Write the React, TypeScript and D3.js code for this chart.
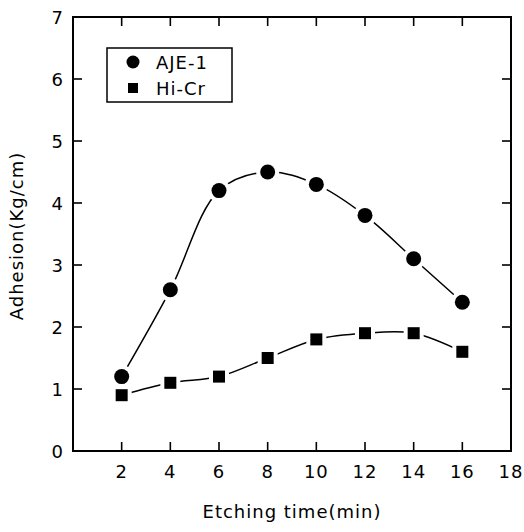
import React, { useEffect, useRef } from 'react';
import * as d3 from 'd3';

const etchTimes = [2, 4, 6, 8, 10, 12, 14, 16];
const ajeValues = [1.2, 2.6, 4.2, 4.5, 4.3, 3.8, 3.1, 2.4];
const hiCrValues = [0.9, 1.1, 1.2, 1.5, 1.8, 1.9, 1.9, 1.6];
const xTickLabels = [2, 4, 6, 8, 10, 12, 14, 16, 18];
const yTickLabels = [0, 1, 2, 3, 4, 5, 6, 7];
const seriesNames = ['AJE-1', 'Hi-Cr'];

const W = 524;
const H = 532;

const App = () => {
  const svgRef = useRef<SVGSVGElement>(null);

  useEffect(() => {
    const svg = d3.select(svgRef.current);
    svg.selectAll('*').remove();
    const font = '"DejaVu Sans", sans-serif';

    // plot frame
    const x = d3.scaleLinear().domain([0, 18]).range([73, 511]);
    const y = d3.scaleLinear().domain([0, 7]).range([451, 17]);

    svg.append('rect')
      .attr('x', x(0)).attr('y', y(7))
      .attr('width', x(18) - x(0)).attr('height', y(0) - y(7))
      .attr('fill', 'none').attr('stroke', '#000').attr('stroke-width', 2);

    const tickLen = 9;
    const g = svg.append('g').attr('stroke', '#000').attr('stroke-width', 1.6);
    // bottom and top ticks (inward)
    etchTimes.forEach((t) => {
      g.append('line').attr('x1', x(t)).attr('x2', x(t)).attr('y1', y(0)).attr('y2', y(0) - tickLen);
      g.append('line').attr('x1', x(t)).attr('x2', x(t)).attr('y1', y(7)).attr('y2', y(7) + tickLen);
    });
    // left and right ticks (inward)
    yTickLabels.slice(1, -1).forEach((v) => {
      g.append('line').attr('x1', x(0)).attr('x2', x(0) + tickLen).attr('y1', y(v)).attr('y2', y(v));
      g.append('line').attr('x1', x(18)).attr('x2', x(18) - tickLen).attr('y1', y(v)).attr('y2', y(v));
    });

    // tick labels
    svg.append('g').selectAll('text').data(xTickLabels).enter().append('text')
      .attr('x', (d) => x(d)).attr('y', y(0) + 27)
      .attr('text-anchor', 'middle').attr('font-family', font).attr('font-size', 18)
      .attr('letter-spacing', 1)
      .text((d) => d);
    svg.append('g').selectAll('text').data(yTickLabels).enter().append('text')
      .attr('x', x(0) - 10).attr('y', (d) => y(d) + 6.5)
      .attr('text-anchor', 'end').attr('font-family', font).attr('font-size', 18)
      .text((d) => d);

    // axis titles
    svg.append('text')
      .attr('x', 292).attr('y', 518)
      .attr('text-anchor', 'middle').attr('font-family', font).attr('font-size', 18)
      .attr('letter-spacing', 1)
      .text('Etching time(min)');
    svg.append('text')
      .attr('transform', `translate(23,236) rotate(-90)`)
      .attr('text-anchor', 'middle').attr('font-family', font).attr('font-size', 18)
      .attr('letter-spacing', 1)
      .text('Adhesion(Kg/cm)');

    const line = d3.line<number>()
      .x((_, i) => x(etchTimes[i]))
      .y((d) => y(d))
      .curve(d3.curveCatmullRom.alpha(0.5));

    [ajeValues, hiCrValues].forEach((vals) => {
      svg.append('path').attr('d', line(vals)).attr('fill', 'none')
        .attr('stroke', '#000').attr('stroke-width', 1.5);
    });

    // markers with white halo to leave gaps in the line
    svg.append('g').selectAll('circle').data(ajeValues).enter().append('circle')
      .attr('cx', (_, i) => x(etchTimes[i])).attr('cy', (d) => y(d)).attr('r', 7.5)
      .attr('fill', '#000').attr('stroke', '#fff').attr('stroke-width', 8).attr('paint-order', 'stroke');
    const s = 12;
    svg.append('g').selectAll('rect').data(hiCrValues).enter().append('rect')
      .attr('x', (_, i) => x(etchTimes[i]) - s / 2).attr('y', (d) => y(d) - s / 2)
      .attr('width', s).attr('height', s)
      .attr('fill', '#000').attr('stroke', '#fff').attr('stroke-width', 8).attr('paint-order', 'stroke');

    // legend
    const leg = svg.append('g');
    leg.append('rect').attr('x', 107).attr('y', 48).attr('width', 125).attr('height', 54)
      .attr('fill', '#fff').attr('stroke', '#000').attr('stroke-width', 1.5);
    leg.append('circle').attr('cx', 133).attr('cy', 62).attr('r', 6.5).attr('fill', '#000');
    leg.append('rect').attr('x', 128).attr('y', 83).attr('width', 10).attr('height', 10).attr('fill', '#000');
    seriesNames.forEach((name, i) => {
      leg.append('text').attr('x', 156).attr('y', 68.5 + i * 26)
        .attr('font-family', font).attr('font-size', 18).attr('letter-spacing', 1).text(name);
    });
  }, []);

  return (
    <div style={{ position: 'absolute', left: 0, top: 0 }}>
      <svg ref={svgRef} width={W} height={H} style={{ display: 'block', background: '#fff' }} />
    </div>
  );
};

export default App;
